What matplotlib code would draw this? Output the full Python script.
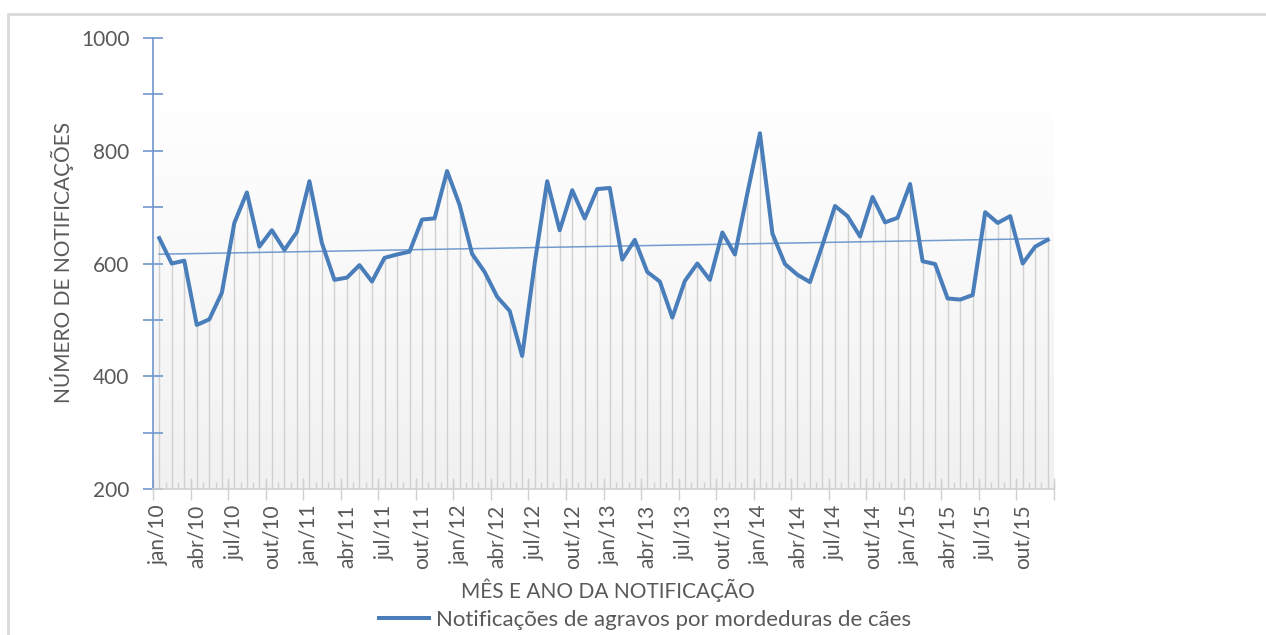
import numpy as np
import matplotlib
matplotlib.use("Agg")
import matplotlib.pyplot as plt
from matplotlib.patches import Rectangle
from matplotlib.lines import Line2D
from matplotlib.colors import LinearSegmentedColormap

# ---- data ----
months = ["jan", "fev", "mar", "abr", "mai", "jun", "jul", "ago", "set", "out", "nov", "dez"]
years = ["10", "11", "12", "13", "14", "15"]
categories = [f"{m}/{y}" for y in years for m in months]

notificacoes = [
    645, 600, 605, 491, 501, 548, 672, 726, 630, 659, 624, 656,
    746, 636, 571, 575, 597, 568, 610, 616, 621, 678, 680, 764,
    704, 617, 585, 541, 516, 436, 600, 746, 659, 730, 680, 732,
    734, 607, 642, 585, 568, 504, 569, 600, 571, 655, 616, 725,
    831, 653, 599, 580, 567, 633, 702, 684, 648, 718, 673, 681,
    741, 604, 599, 538, 536, 544, 691, 672, 684, 600, 630, 642,
]
series_name = "Notificações de agravos por mordeduras de cães"
y_ticks = [200, 400, 600, 800, 1000]
x_title = "MÊS E ANO DA NOTIFICAÇÃO"
y_title = "NÚMERO DE NOTIFICAÇÕES"

# ---- style ----
FONT = "Lato"
TXT = "#595959"
LINE = "#4A7EBB"
plt.rcParams["font.family"] = [FONT, "DejaVu Sans"]

W, H = 1266, 635
fig = plt.figure(figsize=(W / 100, H / 100), dpi=100)
fig.patch.set_facecolor("white")

# outer chart border
fig.add_artist(Rectangle((8 / W, -0.05), 1.2, (H - 14) / H + 0.05, transform=fig.transFigure,
                         fill=False, edgecolor="#D9D9D9", linewidth=2))

ax = fig.add_axes([153 / W, 1 - 489 / H, (1054 - 153) / W, (489 - 38) / H])
ax.set_facecolor("none")

n = len(notificacoes)
x = np.arange(n)
y = np.array(notificacoes, dtype=float)

ax.set_xlim(-0.5, n - 0.5)
ax.set_ylim(200, 1000)

# gradient plot-area fill (white top -> light gray bottom)
grad = np.linspace(0, 1, 256).reshape(-1, 1)
cmap = LinearSegmentedColormap.from_list("g", ["#F1F1F1", "#FFFFFF"])
ax.imshow(grad, aspect="auto", cmap=cmap, origin="lower",
          extent=(-0.5, n - 0.5, 200, 910), zorder=0)

# drop lines
ax.vlines(x, 200, y, colors="#D0D0D0", linewidth=1.0, zorder=1)

# series
ax.plot(x, y, color=LINE, linewidth=2.9, zorder=4, solid_joinstyle="round")

# linear trend line
coef = np.polyfit(x, y, 1)
ax.plot(x, np.polyval(coef, x), color="#5B8CC8", linewidth=1.1, alpha=0.85, zorder=3)

# spines
for s in ["top", "right"]:
    ax.spines[s].set_visible(False)
ax.spines["left"].set_color("#6F97CC")
ax.spines["left"].set_linewidth(1.2)
ax.spines["bottom"].set_color("#D0D0D0")
ax.spines["bottom"].set_linewidth(1.2)

# y ticks
ax.set_yticks(y_ticks)
ax.set_yticks(np.arange(300, 1000, 200), minor=True)
ax.tick_params(axis="y", which="both", direction="inout", length=14, width=1.2,
               color="#6F97CC", labelsize=15, labelcolor=TXT, pad=10)

# x ticks: labels every 3 months at category centre
lab_idx = np.arange(0, n, 3)
ax.set_xticks(lab_idx)
ax.set_xticklabels([categories[i] for i in lab_idx], rotation=90)
ax.set_xticks(np.arange(-0.5, n, 1), minor=True)
ax.tick_params(axis="x", which="major", length=0, labelsize=15, labelcolor=TXT, pad=11)
ax.tick_params(axis="x", which="minor", direction="in", length=5, width=1.0, color="#D0D0D0")

sec = ax.secondary_xaxis("bottom")
sec.set_xticks(np.arange(-0.5, n, 3))
sec.set_xticklabels([])
sec.tick_params(direction="inout", length=16, width=1.0, color="#D0D0D0")
sec.spines["bottom"].set_visible(False)

# titles
fig.text(608 / W, 1 - 590 / H, x_title, ha="center", va="center", fontsize=15, color=TXT)
fig.text(62 / W, 1 - 262 / H, y_title, ha="center", va="center", rotation=90, fontsize=15, color=TXT)

# legend
handle = Line2D([0], [0], color=LINE, linewidth=2.9)
fig.legend([handle], [series_name], loc="center", bbox_to_anchor=(645 / W, 1 - 620 / H),
           frameon=False, fontsize=16, labelcolor=TXT, handlelength=2.25, handletextpad=0.3)

fig.savefig("out.png", dpi=100)
